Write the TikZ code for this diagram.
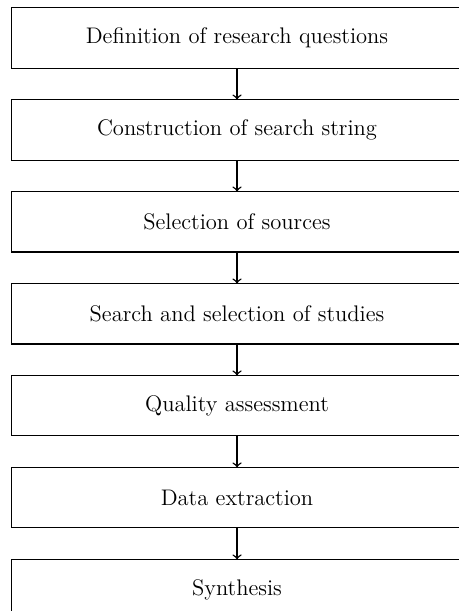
\documentclass[tikz,border=0pt]{standalone}
\usepackage{amsmath,amssymb}
\usepackage{tikz}
\usetikzlibrary{positioning}

\begin{document}
\begin{tikzpicture}[
    stage/.style={draw,rectangle,line width=0.5pt,minimum width=7.75cm,minimum height=1.03cm,inner sep=0pt,font=\fontsize{11}{13}\selectfont},
    node distance=0.53cm
]
\useasboundingbox (0,0) rectangle (7.855,-10.479);
% review process
\node[stage] (rq) at (4.065,-0.652) {Definition of research questions};
\node[stage,below=of rq] (string) {Construction of search string};
\node[stage,below=of string] (sources) {Selection of sources};
\node[stage,below=of sources] (search) {Search and selection of studies};
\node[stage,below=of search] (quality) {Quality assessment};
\node[stage,below=of quality] (extract) {Data extraction};
\node[stage,below=of extract] (synth) {Synthesis};

% Connections
\draw[->,line width=0.7pt] (rq) -- (string);
\draw[->,line width=0.7pt] (string) -- (sources);
\draw[->,line width=0.7pt] (sources) -- (search);
\draw[->,line width=0.7pt] (search) -- (quality);
\draw[->,line width=0.7pt] (quality) -- (extract);
\draw[->,line width=0.7pt] (extract) -- (synth);
\end{tikzpicture}
\end{document}
